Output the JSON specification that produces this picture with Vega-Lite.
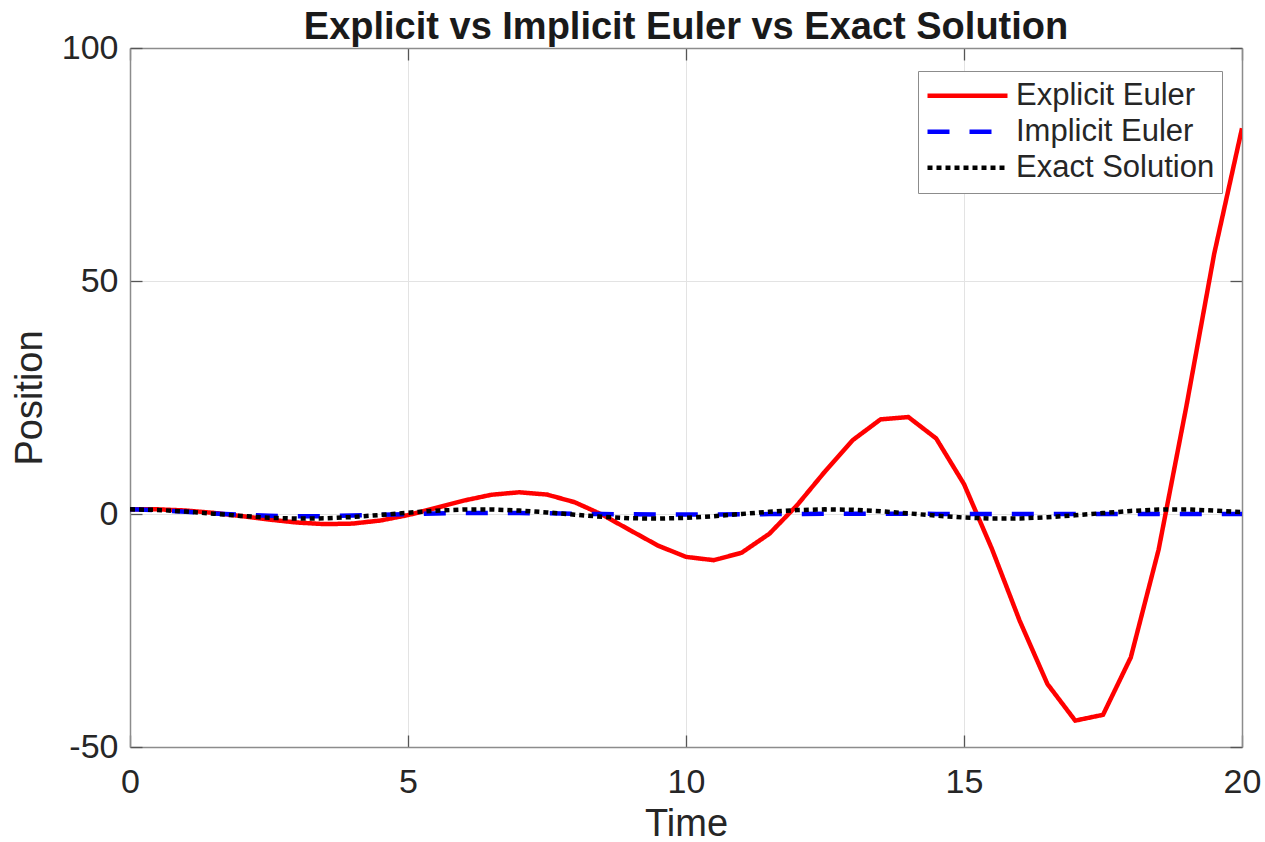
{
  "$schema": "https://vega.github.io/schema/vega-lite/v6.json",
  "width": 1112,
  "height": 699,
  "autosize": {"type": "none"},
  "padding": {"left": 130, "top": 48, "right": 23, "bottom": 95},
  "background": "white",
  "title": {
    "text": "Explicit vs Implicit Euler vs Exact Solution",
    "font": "Liberation Sans",
    "fontSize": 38,
    "fontWeight": "bold",
    "color": "#1a1a1a",
    "anchor": "middle",
    "baseline": "alphabetic",
    "offset": 10,
    "dy": 56
  },
  "data": {
    "values": [
      {"t": 0, "x": 1, "s": "Explicit Euler"},
      {"t": 0.5, "x": 1, "s": "Explicit Euler"},
      {"t": 1, "x": 0.75, "s": "Explicit Euler"},
      {"t": 1.5, "x": 0.25, "s": "Explicit Euler"},
      {"t": 2, "x": -0.4375, "s": "Explicit Euler"},
      {"t": 2.5, "x": -1.1875, "s": "Explicit Euler"},
      {"t": 3, "x": -1.8281, "s": "Explicit Euler"},
      {"t": 3.5, "x": -2.1719, "s": "Explicit Euler"},
      {"t": 4, "x": -2.0586, "s": "Explicit Euler"},
      {"t": 4.5, "x": -1.4023, "s": "Explicit Euler"},
      {"t": 5, "x": -0.2314, "s": "Explicit Euler"},
      {"t": 5.5, "x": 1.29, "s": "Explicit Euler"},
      {"t": 6, "x": 2.8694, "s": "Explicit Euler"},
      {"t": 6.5, "x": 4.1262, "s": "Explicit Euler"},
      {"t": 7, "x": 4.6657, "s": "Explicit Euler"},
      {"t": 7.5, "x": 4.1736, "s": "Explicit Euler"},
      {"t": 8, "x": 2.5152, "s": "Explicit Euler"},
      {"t": 8.5, "x": -0.1868, "s": "Explicit Euler"},
      {"t": 9, "x": -3.5174, "s": "Explicit Euler"},
      {"t": 9.5, "x": -6.8014, "s": "Explicit Euler"},
      {"t": 10, "x": -9.2061, "s": "Explicit Euler"},
      {"t": 10.5, "x": -9.9104, "s": "Explicit Euler"},
      {"t": 11, "x": -8.3131, "s": "Explicit Euler"},
      {"t": 11.5, "x": -4.2383, "s": "Explicit Euler"},
      {"t": 12, "x": 1.9148, "s": "Explicit Euler"},
      {"t": 12.5, "x": 9.1275, "s": "Explicit Euler"},
      {"t": 13, "x": 15.8615, "s": "Explicit Euler"},
      {"t": 13.5, "x": 20.3136, "s": "Explicit Euler"},
      {"t": 14, "x": 20.8003, "s": "Explicit Euler"},
      {"t": 14.5, "x": 16.2087, "s": "Explicit Euler"},
      {"t": 15, "x": 6.4169, "s": "Explicit Euler"},
      {"t": 15.5, "x": -7.427, "s": "Explicit Euler"},
      {"t": 16, "x": -22.8752, "s": "Explicit Euler"},
      {"t": 16.5, "x": -36.4666, "s": "Explicit Euler"},
      {"t": 17, "x": -44.3392, "s": "Explicit Euler"},
      {"t": 17.5, "x": -43.0951, "s": "Explicit Euler"},
      {"t": 18, "x": -30.7663, "s": "Explicit Euler"},
      {"t": 18.5, "x": -7.6637, "s": "Explicit Euler"},
      {"t": 19, "x": 23.1305, "s": "Explicit Euler"},
      {"t": 19.5, "x": 55.8406, "s": "Explicit Euler"},
      {"t": 20, "x": 82.7681, "s": "Explicit Euler"},
      {"t": 0, "x": 1, "s": "Implicit Euler"},
      {"t": 0.5, "x": 0.8, "s": "Implicit Euler"},
      {"t": 1, "x": 0.48, "s": "Implicit Euler"},
      {"t": 1.5, "x": 0.128, "s": "Implicit Euler"},
      {"t": 2, "x": -0.1792, "s": "Implicit Euler"},
      {"t": 2.5, "x": -0.3891, "s": "Implicit Euler"},
      {"t": 3, "x": -0.4792, "s": "Implicit Euler"},
      {"t": 3.5, "x": -0.4555, "s": "Implicit Euler"},
      {"t": 4, "x": -0.3454, "s": "Implicit Euler"},
      {"t": 4.5, "x": -0.1882, "s": "Implicit Euler"},
      {"t": 5, "x": -0.0249, "s": "Implicit Euler"},
      {"t": 5.5, "x": 0.1108, "s": "Implicit Euler"},
      {"t": 6, "x": 0.1972, "s": "Implicit Euler"},
      {"t": 6.5, "x": 0.2268, "s": "Implicit Euler"},
      {"t": 7, "x": 0.2052, "s": "Implicit Euler"},
      {"t": 7.5, "x": 0.1468, "s": "Implicit Euler"},
      {"t": 8, "x": 0.0708, "s": "Implicit Euler"},
      {"t": 8.5, "x": -0.0042, "s": "Implicit Euler"},
      {"t": 9, "x": -0.0634, "s": "Implicit Euler"},
      {"t": 9.5, "x": -0.098, "s": "Implicit Euler"},
      {"t": 10, "x": -0.1061, "s": "Implicit Euler"},
      {"t": 10.5, "x": -0.0914, "s": "Implicit Euler"},
      {"t": 11, "x": -0.0613, "s": "Implicit Euler"},
      {"t": 11.5, "x": -0.025, "s": "Implicit Euler"},
      {"t": 12, "x": 0.009, "s": "Implicit Euler"},
      {"t": 12.5, "x": 0.0345, "s": "Implicit Euler"},
      {"t": 13, "x": 0.0479, "s": "Implicit Euler"},
      {"t": 13.5, "x": 0.0491, "s": "Implicit Euler"},
      {"t": 14, "x": 0.0402, "s": "Implicit Euler"},
      {"t": 14.5, "x": 0.0251, "s": "Implicit Euler"},
      {"t": 15, "x": 0.0079, "s": "Implicit Euler"},
      {"t": 15.5, "x": -0.0074, "s": "Implicit Euler"},
      {"t": 16, "x": -0.0181, "s": "Implicit Euler"},
      {"t": 16.5, "x": -0.0231, "s": "Implicit Euler"},
      {"t": 17, "x": -0.0225, "s": "Implicit Euler"},
      {"t": 17.5, "x": -0.0175, "s": "Implicit Euler"},
      {"t": 18, "x": -0.01, "s": "Implicit Euler"},
      {"t": 18.5, "x": -0.002, "s": "Implicit Euler"},
      {"t": 19, "x": 0.0048, "s": "Implicit Euler"},
      {"t": 19.5, "x": 0.0093, "s": "Implicit Euler"},
      {"t": 20, "x": 0.011, "s": "Implicit Euler"},
      {"t": 0, "x": 1, "s": "Exact Solution"},
      {"t": 0.5, "x": 0.8776, "s": "Exact Solution"},
      {"t": 1, "x": 0.5403, "s": "Exact Solution"},
      {"t": 1.5, "x": 0.0707, "s": "Exact Solution"},
      {"t": 2, "x": -0.4161, "s": "Exact Solution"},
      {"t": 2.5, "x": -0.8011, "s": "Exact Solution"},
      {"t": 3, "x": -0.99, "s": "Exact Solution"},
      {"t": 3.5, "x": -0.9365, "s": "Exact Solution"},
      {"t": 4, "x": -0.6536, "s": "Exact Solution"},
      {"t": 4.5, "x": -0.2108, "s": "Exact Solution"},
      {"t": 5, "x": 0.2837, "s": "Exact Solution"},
      {"t": 5.5, "x": 0.7087, "s": "Exact Solution"},
      {"t": 6, "x": 0.9602, "s": "Exact Solution"},
      {"t": 6.5, "x": 0.9766, "s": "Exact Solution"},
      {"t": 7, "x": 0.7539, "s": "Exact Solution"},
      {"t": 7.5, "x": 0.3466, "s": "Exact Solution"},
      {"t": 8, "x": -0.1455, "s": "Exact Solution"},
      {"t": 8.5, "x": -0.602, "s": "Exact Solution"},
      {"t": 9, "x": -0.9111, "s": "Exact Solution"},
      {"t": 9.5, "x": -0.9972, "s": "Exact Solution"},
      {"t": 10, "x": -0.8391, "s": "Exact Solution"},
      {"t": 10.5, "x": -0.4755, "s": "Exact Solution"},
      {"t": 11, "x": 0.0044, "s": "Exact Solution"},
      {"t": 11.5, "x": 0.4833, "s": "Exact Solution"},
      {"t": 12, "x": 0.8439, "s": "Exact Solution"},
      {"t": 12.5, "x": 0.9978, "s": "Exact Solution"},
      {"t": 13, "x": 0.9074, "s": "Exact Solution"},
      {"t": 13.5, "x": 0.5949, "s": "Exact Solution"},
      {"t": 14, "x": 0.1367, "s": "Exact Solution"},
      {"t": 14.5, "x": -0.3549, "s": "Exact Solution"},
      {"t": 15, "x": -0.7597, "s": "Exact Solution"},
      {"t": 15.5, "x": -0.9828, "s": "Exact Solution"},
      {"t": 16, "x": -0.9577, "s": "Exact Solution"},
      {"t": 16.5, "x": -0.6877, "s": "Exact Solution"},
      {"t": 17, "x": -0.2752, "s": "Exact Solution"},
      {"t": 17.5, "x": 0.1943, "s": "Exact Solution"},
      {"t": 18, "x": 0.6603, "s": "Exact Solution"},
      {"t": 18.5, "x": 0.966, "s": "Exact Solution"},
      {"t": 19, "x": 0.9887, "s": "Exact Solution"},
      {"t": 19.5, "x": 0.7395, "s": "Exact Solution"},
      {"t": 20, "x": 0.4081, "s": "Exact Solution"}
    ]
  },
  "layer": [
    {
      "mark": {"type": "line", "strokeWidth": 4.5, "clip": true},
      "encoding": {
        "x": {
          "field": "t", "type": "quantitative",
          "scale": {"domain": [0, 20], "nice": false, "zero": false},
          "axis": {
            "orient": "bottom", "values": [0, 5, 10, 15, 20], "grid": true,
            "title": "Time", "labelPadding": 30, "titlePadding": 6,
            "labelFlush": false, "labelOverlap": false,
            "labelExpr": "'' + datum.value"
          }
        },
        "y": {
          "field": "x", "type": "quantitative",
          "scale": {"domain": [-50, 100], "nice": false, "zero": false},
          "axis": {
            "orient": "left", "values": [-50, 0, 50, 100], "grid": true,
            "title": "Position", "labelPadding": 24, "titlePadding": 12,
            "labelFlush": false, "labelOverlap": false,
            "labelExpr": "'' + datum.value"
          }
        },
        "color": {
          "field": "s", "type": "nominal",
          "scale": {"domain": ["Explicit Euler", "Implicit Euler", "Exact Solution"], "range": ["#ff0000", "#0000ff", "#000000"]},
          "legend": {
            "title": null, "orient": "none", "legendX": 788, "legendY": 23,
            "symbolType": "stroke", "symbolSize": 6400, "symbolStrokeWidth": 4.5,
            "clipHeight": 35.5, "rowPadding": 0, "labelOffset": 6, "padding": 7,
            "strokeColor": "#8c8c8c", "fillColor": "#ffffff",
            "labelFont": "Liberation Sans", "labelFontSize": 31, "labelColor": "#262626", "labelLimit": 400
          }
        },
        "strokeDash": {
          "field": "s", "type": "nominal",
          "scale": {"domain": ["Explicit Euler", "Implicit Euler", "Exact Solution"], "range": [[1, 0], [22, 20], [5, 4]]},
          "legend": {
            "title": null, "orient": "none", "legendX": 788, "legendY": 23,
            "symbolType": "stroke", "symbolSize": 6400, "symbolStrokeWidth": 4.5,
            "clipHeight": 35.5, "rowPadding": 0, "labelOffset": 6, "padding": 7,
            "strokeColor": "#8c8c8c", "fillColor": "#ffffff",
            "labelFont": "Liberation Sans", "labelFontSize": 31, "labelColor": "#262626", "labelLimit": 400
          }
        }
      }
    },
    {
      "mark": {"type": "point", "opacity": 0},
      "encoding": {
        "x": {
          "field": "t", "type": "quantitative",
          "axis": {"orient": "top", "values": [0, 5, 10, 15, 20], "labels": false, "title": null, "grid": false}
        },
        "y": {
          "field": "x", "type": "quantitative",
          "axis": {"orient": "right", "values": [-50, 0, 50, 100], "labels": false, "title": null, "grid": false}
        }
      }
    }
  ],
  "resolve": {"axis": {"x": "independent", "y": "independent"}},
  "config": {
    "view": {"stroke": null},
    "font": "Liberation Sans",
    "axis": {
      "domainColor": "#8c8c8c", "domainWidth": 1.5,
      "tickColor": "#555555", "tickWidth": 1.3, "tickSize": -12,
      "gridColor": "#e3e3e3", "gridWidth": 1,
      "labelFont": "Liberation Sans", "labelFontSize": 34, "labelColor": "#262626",
      "titleFont": "Liberation Sans", "titleFontSize": 38, "titleColor": "#262626", "titleFontWeight": "normal"
    }
  }
}
